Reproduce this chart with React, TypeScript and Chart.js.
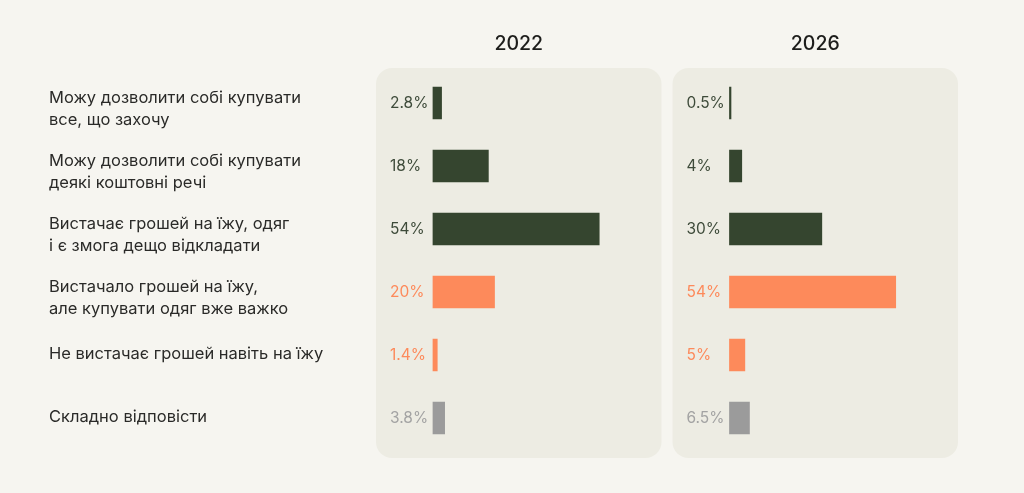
import React, { useEffect, useRef } from "react";
import { Chart, registerables } from "chart.js";

Chart.register(...registerables);

const categories: (string | string[])[] = [
  ["Можу дозволити собі купувати", "все, що захочу"],
  ["Можу дозволити собі купувати", "деякі коштовні речі"],
  ["Вистачає грошей на їжу, одяг", "і є змога дещо відкладати"],
  ["Вистачало грошей на їжу,", "але купувати одяг вже важко"],
  "Не вистачає грошей навіть на їжу",
  "Складно відповісти",
];
const years = ["2022", "2026"];
const values2022 = [2.8, 18, 54, 20, 1.4, 3.8];
const values2026 = [0.5, 4, 30, 54, 5, 6.5];
const barColors = ["#35452f", "#35452f", "#35452f", "#fd8a5b", "#fd8a5b", "#9b9b9b"];
const valueColors = ["#3e4b3a", "#3e4b3a", "#3e4b3a", "#fd8a5b", "#fd8a5b", "#a3a3a3"];

const PAGE_BG = "#f6f5f0";
const PANEL_BG = "#edece3";
const FONT = "Inter, 'Noto Sans', sans-serif";

const panelPlugin = {
  id: "panels",
  beforeDatasetsDraw(chart: any) {
    const { ctx, chartArea } = chart;
    ctx.save();
    ["x1", "x2"].forEach((id, k) => {
      const s = chart.scales[id];
      const left = s.left;
      const right = s.right - 11;
      const top = chartArea.top - 3.5;
      const bottom = chartArea.bottom + 8.5;
      ctx.fillStyle = PANEL_BG;
      ctx.beginPath();
      ctx.roundRect(left, top, right - left, bottom - top, 16);
      ctx.fill();
      ctx.fillStyle = "#1d1d1b";
      ctx.font = `500 19.5px ${FONT}`;
      ctx.textAlign = "center";
      ctx.textBaseline = "middle";
      ctx.fillText(years[k], (left + right) / 2, chartArea.top - 27);
    });
    // category labels, positioned from the y scale
    const y = chart.scales.y;
    ctx.font = `400 16.5px ${FONT}`;
    ctx.fillStyle = "#2a2a28";
    ctx.textAlign = "left";
    ctx.textBaseline = "middle";
    (chart.data.labels as any[]).forEach((lab: any, i: number) => {
      const py = y.getPixelForValue(i);
      const lines = Array.isArray(lab) ? lab : [lab];
      if (lines.length === 1) {
        ctx.fillText(lines[0], y.left, py - 1);
      } else {
        lines.forEach((ln: string, j: number) => {
          ctx.fillText(ln, y.left, py - 5 + j * 22.5);
        });
      }
    });
    ctx.restore();
  },
  afterDatasetsDraw(chart: any) {
    const { ctx } = chart;
    ctx.save();
    ctx.font = `400 15.5px ${FONT}`;
    ctx.textAlign = "left";
    ctx.textBaseline = "middle";
    chart.data.datasets.forEach((ds: any, di: number) => {
      const meta = chart.getDatasetMeta(di);
      const s = chart.scales[ds.xAxisID];
      meta.data.forEach((bar: any, i: number) => {
        ctx.fillStyle = valueColors[i];
        ctx.fillText(`${ds.data[i]}%`, s.left + 14, bar.y);
      });
    });
    ctx.restore();
  },
};

export default function App() {
  const ref = useRef<HTMLCanvasElement | null>(null);
  useEffect(() => {
    document.body.style.background = PAGE_BG;
    const chart = new Chart(ref.current as HTMLCanvasElement, {
      type: "bar",
      data: {
        labels: categories as any,
        datasets: [
          {
            label: years[0],
            data: values2022,
            xAxisID: "x1",
            backgroundColor: barColors,
            grouped: false,
            barThickness: 32,
          } as any,
          {
            label: years[1],
            data: values2026,
            xAxisID: "x2",
            backgroundColor: barColors,
            grouped: false,
            barThickness: 32,
          } as any,
        ],
      },
      options: {
        indexAxis: "y",
        animation: false,
        responsive: true,
        maintainAspectRatio: false,
        layout: { padding: { left: 49, right: 55, top: 71.5, bottom: 43.5 } },
        plugins: {
          legend: { display: false },
          tooltip: { enabled: false },
        },
        scales: {
          y: {
            type: "category",
            position: "left",
            grid: { display: false, drawTicks: false },
            border: { display: false },
            afterFit: (scale: any) => {
              scale.width = 327;
            },
            ticks: { display: false },
          },
          x1: {
            type: "linear",
            position: "bottom",
            stack: "years",
            stackWeight: 1,
            min: -18.5,
            max: 77.8,
            display: false,
          },
          x2: {
            type: "linear",
            position: "bottom",
            stack: "years",
            stackWeight: 1,
            min: -18.5,
            max: 77.8,
            display: false,
          },
        } as any,
      },
      plugins: [panelPlugin],
    });
    return () => chart.destroy();
  }, []);
  return (
    <div
      style={{
        position: "fixed",
        left: 0,
        top: 0,
        width: "1024px",
        height: "493px",
        background: PAGE_BG,
      }}
    >
      <canvas ref={ref} />
    </div>
  );
}
